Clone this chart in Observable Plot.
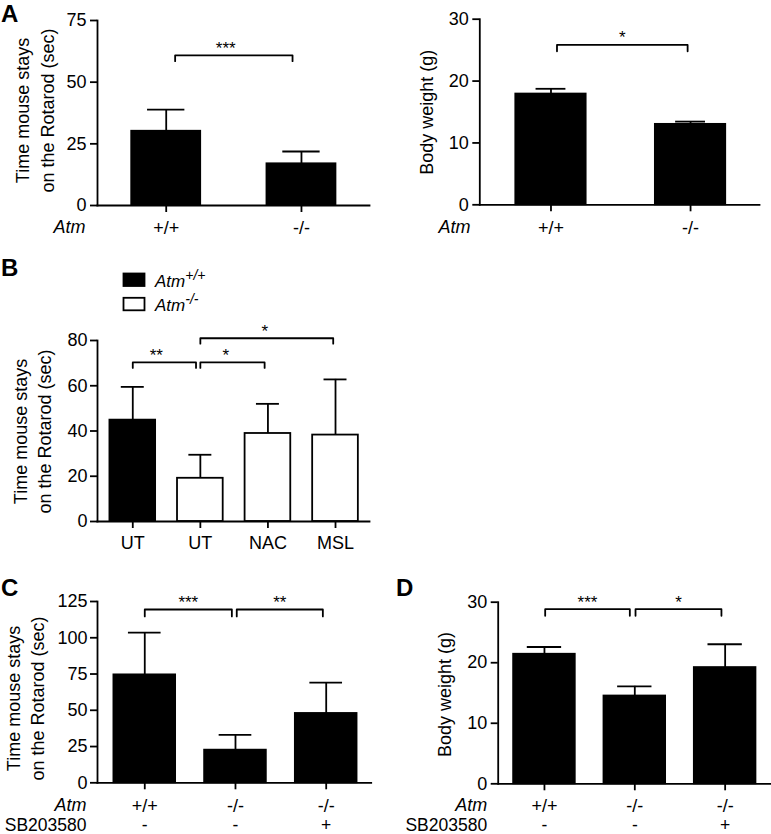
<!DOCTYPE html>
<html><head><meta charset="utf-8">
<script src="https://cdn.jsdelivr.net/npm/d3@7"></script>
<script src="https://cdn.jsdelivr.net/npm/@observablehq/plot@0.6"></script>
<style>
html,body{margin:0;padding:0;background:#fff;}
#fig{position:relative;width:771px;height:834px;overflow:hidden;background:#fff;font-family:"Liberation Sans",Arial,Helvetica,sans-serif;}
.panel{position:absolute;}
#overlay{position:absolute;left:0;top:0;pointer-events:none;}
</style></head>
<body><div id="fig"></div>
<script>
// ---------- data ----------
const aGenotypes = ["+/+", "-/-"];
const aRotarodMean = [30.1, 16.9];
const aRotarodErr = [8.8, 5.0];
const aRotarodTicks = [0, 25, 50, 75];
const aRotarodSig = [{from: 0, to: 1, label: "***"}];

const aWeightMean = [17.9, 13.0];
const aWeightErr = [0.85, 0.45];
const aWeightTicks = [0, 10, 20, 30];
const aWeightSig = [{from: 0, to: 1, label: "*"}];

const bTreatments = ["UT", "UT", "NAC", "MSL"];
const bGenotypes = ["+/+", "-/-", "-/-", "-/-"];
const bRotarodMean = [44.8, 19.1, 38.9, 38.2];
const bRotarodErr = [14.7, 10.4, 13.1, 24.6];
const bTicks = [0, 20, 40, 60, 80];
const bSig = [{from: 0, to: 1, label: "**"}, {from: 1, to: 2, label: "*"}, {from: 1, to: 3, label: "*"}];

const cdGenotypes = ["+/+", "-/-", "-/-"];
const cdSB203580 = ["-", "-", "+"];
const cRotarodMean = [74.4, 22.5, 47.8];
const cRotarodErr = [29.2, 10.6, 21.3];
const cTicks = [0, 25, 50, 75, 100, 125];
const cSig = [{from: 0, to: 1, label: "***"}, {from: 1, to: 2, label: "**"}];

const dWeightMean = [21.4, 14.5, 19.2];
const dWeightErr = [1.2, 1.6, 3.85];
const dTicks = [0, 10, 20, 30];
const dSig = [{from: 0, to: 1, label: "***"}, {from: 1, to: 2, label: "*"}];

const genotypeKeys = ["+/+", "-/-"];
const genotypeColors = ["black", "white"];

// ---------- layout / style ----------
const FONT = '"Liberation Sans", Arial, Helvetica, sans-serif';
const SW = 1.8;
const fig = document.getElementById("fig");

function drawPanel(c) {
  const [bx0, bx1, by0, by1] = c.box;
  const n = c.means.length;
  const idx = d3.range(n);
  const rows = idx.map(i => ({i, mean: c.means[i], err: c.errs[i], geno: c.genotypes[i]}));
  const br = [];
  c.sig.forEach((s, k) => {
    const xa = s.from + c.insets[k][0], xb = s.to - c.insets[k][1];
    const yT = c.sigY[k], yB = c.sigY[k] - c.sigLeg;
    br.push({k, x: xa, y: yB}, {k, x: xa, y: yT}, {k, x: xb, y: yT}, {k, x: xb, y: yB});
  });
  const starShift = c.starShift || c.sig.map(() => 0);
  const tick = 7;
  const fs = c.fs;
  const marks = [
    Plot.rectY(rows, {x1: d => d.i - c.barHalf, x2: d => d.i + c.barHalf, y1: 0, y2: "mean",
      fill: c.colorByGenotype ? "geno" : "black", stroke: "black", strokeWidth: SW}),
    Plot.ruleX(rows, {x: "i", y1: "mean", y2: d => d.mean + d.err, stroke: "black", strokeWidth: SW}),
    Plot.ruleY(rows, {y: d => d.mean + d.err, x1: d => d.i - c.capHalf, x2: d => d.i + c.capHalf, stroke: "black", strokeWidth: SW}),
    Plot.line(br, {x: "x", y: "y", z: "k", stroke: "black", strokeWidth: SW}),
    Plot.text(c.sig, {x: (s, k) => (s.from + c.insets[k][0] + s.to - c.insets[k][1]) / 2 + starShift[k], y: (s, k) => c.sigY[k],
      text: "label", dy: c.starDy, fontSize: c.starFs, textAnchor: "middle", lineAnchor: "middle"}),
    Plot.frame({anchor: "left", stroke: "black", strokeWidth: SW}),
    Plot.frame({anchor: "bottom", stroke: "black", strokeWidth: SW}),
    Plot.axisY({ticks: c.ticks, tickSize: tick, tickPadding: c.yPad, label: null, fontSize: fs, strokeWidth: SW}),
    Plot.axisX({ticks: idx, tickSize: tick, tickPadding: c.rowY - by1 - tick - 0.36 * fs, tickFormat: i => c.xLabels[i],
      label: null, fontSize: fs, strokeWidth: SW}),
    Plot.text([c.title], {frameAnchor: "left", text: d => d, rotate: -90, textAnchor: "middle", lineAnchor: "middle",
      dx: c.titleX - bx0, dy: c.titleY - (by0 + by1) / 2, fontSize: c.titleFs, lineHeight: c.titleLh})
  ];
  if (c.rowLabel) marks.push(Plot.text([c.rowLabel], {frameAnchor: "bottom-left", text: d => d, textAnchor: "end",
      lineAnchor: "middle", dx: c.rowLabelX - bx0, dy: c.rowY - by1, fontStyle: "italic", fontSize: c.rowFs}));
  if (c.row2) {
    marks.push(Plot.text(c.row2, {x: (d, i) => i, frameAnchor: "bottom", text: d => d, textAnchor: "middle",
      lineAnchor: "middle", dy: c.row2Y - by1, fontSize: c.row2Fs}));
    marks.push(Plot.text([c.row2Label], {frameAnchor: "bottom-left", text: d => d, textAnchor: "end",
      lineAnchor: "middle", dx: c.rowLabelX - bx0, dy: c.row2Y - by1, fontSize: c.row2Fs}));
  }
  const svg = Plot.plot({
    width: c.width, height: c.height,
    marginLeft: bx0 - c.left, marginRight: c.left + c.width - bx1,
    marginTop: by0 - c.top, marginBottom: c.top + c.height - by1,
    x: {domain: c.xDomain},
    y: {domain: [0, c.yMax]},
    color: {domain: genotypeKeys, range: genotypeColors},
    style: {fontFamily: FONT, fontSize: fs + "px", background: "transparent", overflow: "visible", color: "black"},
    marks
  });
  const div = document.createElement("div");
  div.className = "panel";
  div.style.left = c.left + "px";
  div.style.top = c.top + "px";
  div.appendChild(svg);
  fig.appendChild(div);
}

const common = {fs: 18, titleFs: 18, rowFs: 18, row2Fs: 17.5, starFs: 17, starDy: -7, yPad: 4, colorByGenotype: false};

drawPanel({...common, left: 0, top: 0, width: 390, height: 250, box: [97, 369, 20, 205], xDomain: [-0.508, 1.503],
  yMax: 75, ticks: aRotarodTicks, means: aRotarodMean, errs: aRotarodErr, genotypes: aGenotypes, xLabels: aGenotypes,
  barHalf: 0.255, capHalf: 0.138, sig: aRotarodSig, sigY: [60.9], sigLeg: 2.4, insets: [[0.066, 0.066]], starShift: [-0.06],
  title: "Time mouse stays\non the Rotarod (sec)", titleX: 32.5, titleY: 110, titleLh: 1.39,
  rowY: 227, rowLabel: "Atm", rowLabelX: 85});

drawPanel({...common, left: 390, top: 0, width: 381, height: 250, box: [479.3, 759, 18.7, 204.3], xDomain: [-0.510, 1.494],
  yMax: 30, ticks: aWeightTicks, means: aWeightMean, errs: aWeightErr, genotypes: aGenotypes, xLabels: aGenotypes,
  barHalf: 0.252, capHalf: 0.107, sig: aWeightSig, sigY: [25.85], sigLeg: 1.05, insets: [[0.043, 0.021]],
  title: "Body weight (g)", titleX: 425.7, titleY: 111.7, titleLh: 1.2,
  rowY: 227, rowLabel: "Atm", rowLabelX: 470});

drawPanel({...common, left: 0, top: 320, width: 390, height: 240, box: [97, 369, 340, 521], xDomain: [-0.522, 3.503],
  yMax: 80, ticks: bTicks, means: bRotarodMean, errs: bRotarodErr, genotypes: bGenotypes, xLabels: bTreatments,
  colorByGenotype: true, yPad: 3,
  barHalf: 0.338, capHalf: 0.17, sig: bSig, sigY: [70.3, 70.3, 81.0], sigLeg: 2.4, insets: [[0, 0.064], [0, 0.049], [0, 0.034]],
  starShift: [-0.12, -0.1, -0.03],
  title: "Time mouse stays\non the Rotarod (sec)", titleX: 30.75, titleY: 431, titleLh: 1.31,
  rowY: 541.7});

drawPanel({...common, left: 0, top: 585, width: 390, height: 249, box: [97, 370.7, 601, 782.3], xDomain: [-0.521, 2.496],
  yMax: 125, ticks: cTicks, means: cRotarodMean, errs: cRotarodErr, genotypes: cdGenotypes, xLabels: cdGenotypes, yPad: 3,
  barHalf: 0.34, capHalf: 0.18, sig: cSig, sigY: [119.5, 119.5], sigLeg: 4.8, insets: [[0, 0.04], [0.014, 0.037]],
  title: "Time mouse stays\non the Rotarod (sec)", titleX: 24.2, titleY: 698, titleLh: 1.3,
  rowY: 805, rowLabel: "Atm", rowLabelX: 86, row2: cdSB203580, row2Y: 824.5, row2Label: "SB203580"});

drawPanel({...common, left: 390, top: 585, width: 381, height: 249, box: [497.7, 770, 601.7, 783.3], xDomain: [-0.512, 2.502],
  yMax: 30, ticks: dTicks, means: dWeightMean, errs: dWeightErr, genotypes: cdGenotypes, xLabels: cdGenotypes,
  barHalf: 0.341, capHalf: 0.19, sig: dSig, sigY: [28.85, 28.85], sigLeg: 1.1, insets: [[0.008, 0.055], [0.008, 0.041]],
  title: "Body weight (g)", titleX: 443.3, titleY: 694, titleLh: 1.2,
  rowY: 805, rowLabel: "Atm", rowLabelX: 486.7, row2: cdSB203580, row2Y: 824.5, row2Label: "SB203580"});

// ---------- panel letters and legend ----------
const ov = d3.select(fig).append("svg").attr("id", "overlay").attr("width", 771).attr("height", 834)
  .style("font-family", FONT);
[["A", 1, 21.8], ["B", 1, 276], ["C", 1, 596], ["D", 396, 596]].forEach(([t, x, y]) =>
  ov.append("text").attr("x", x).attr("y", y).attr("font-size", 24).attr("font-weight", "bold").text(t));
const legendItems = genotypeKeys.map((g, i) => ({g, color: genotypeColors[i]}));
legendItems.forEach((d, i) => {
  const y0 = 273.5 + i * 24.3;
  ov.append("rect").attr("x", 123.5).attr("y", y0).attr("width", 21).attr("height", 12.5)
    .attr("fill", d.color).attr("stroke", "black").attr("stroke-width", SW);
  const t = ov.append("text").attr("x", 155).attr("y", y0 + 13).attr("font-size", 17).attr("font-style", "italic");
  t.append("tspan").text("Atm");
  t.append("tspan").attr("font-size", 14).attr("dy", -7).text(d.g);
});
</script></body></html>
